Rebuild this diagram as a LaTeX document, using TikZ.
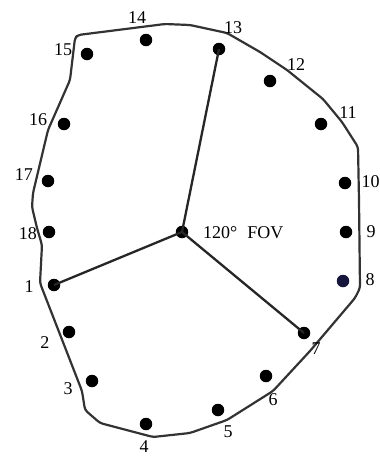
\documentclass[tikz,border=0pt]{standalone}
\usepackage{fontspec}
\setmainfont{Liberation Serif}
\definecolor{navydot}{RGB}{22,22,60}
\begin{document}
\begin{tikzpicture}[x=1pt,y=-1pt,
  dot/.style={circle,fill=black,inner sep=0pt,minimum size=12.5pt},
  lbl/.style={inner sep=0pt,font=\fontsize{18}{18}\selectfont},
  spoke/.style={line width=2.3pt,black!85},
  outline/.style={line width=2.2pt,black!80,rounded corners=3pt}]
\useasboundingbox[fill=white] (0,0) rectangle (380,456);
\begin{scope}
\clip (0,0) rectangle (380,456);
% outline
\draw[outline] (78,35) -- (165,24) -- (190,25) -- (227,33) -- (260,52) -- (287,70) -- (323,99) -- (342,122) -- (358,147)
  -- (359,200) -- (360,288) -- (355,298) -- (310,351) -- (273,391) -- (227,420) -- (190,433) -- (153,437)
  -- (100,423) -- (85,410) -- (82,391) -- (40,283) -- (42,245) -- (37,228) -- (32,207) -- (33,193)
  -- (48,130) -- (70,80) -- (75,38) -- cycle;
% dots
\node[dot] (d1) at (54,285) {};
\node[dot] (d2) at (69,332) {};
\node[dot] (d3) at (92,381) {};
\node[dot] (d4) at (146,424) {};
\node[dot] (d5) at (218,410) {};
\node[dot] (d6) at (266,376) {};
\node[dot] (d7) at (304,333) {};
\node[dot,fill=navydot] (d8) at (343,281) {};
\node[dot] (d9) at (346,232) {};
\node[dot] (d10) at (345,183) {};
\node[dot] (d11) at (321,124) {};
\node[dot] (d12) at (270,81) {};
\node[dot] (d13) at (219,49) {};
\node[dot] (d14) at (146,40) {};
\node[dot] (d15) at (87,54) {};
\node[dot] (d16) at (64,124) {};
\node[dot] (d17) at (48,181) {};
\node[dot] (d18) at (49,232) {};
\node[dot] (c) at (182,232) {};
% spokes
\draw[spoke] (c.center) -- (d13.center);
\draw[spoke] (c.center) -- (d1.center);
\draw[spoke] (c.center) -- (d7.center);
% labels
\node[lbl] (l1) at (29,287) {1};
\node[lbl] (l2) at (45,343) {2};
\node[lbl] (l3) at (68,389) {3};
\node[lbl] (l4) at (144,447) {4};
\node[lbl] (l5) at (228,432) {5};
\node[lbl] (l6) at (273,400) {6};
\node[lbl] (l7) at (316,349) {7};
\node[lbl] (l8) at (370,280) {8};
\node[lbl] (l9) at (371,232) {9};
\node[lbl] (l10) at (370.5,182) {10};
\node[lbl] (l11) at (348,113) {11};
\node[lbl] (l12) at (296,65) {12};
\node[lbl] (l13) at (233,28) {13};
\node[lbl] (l14) at (137,18) {14};
\node[lbl] (l15) at (63,50) {15};
\node[lbl] (l16) at (38,120) {16};
\node[lbl] (l17) at (24,175) {17};
\node[lbl] (l18) at (28,234) {18};
\node[lbl,anchor=west] (fov) at (203,233) {120°\hspace{10pt}FOV};
\end{scope}
\end{tikzpicture}
\end{document}
